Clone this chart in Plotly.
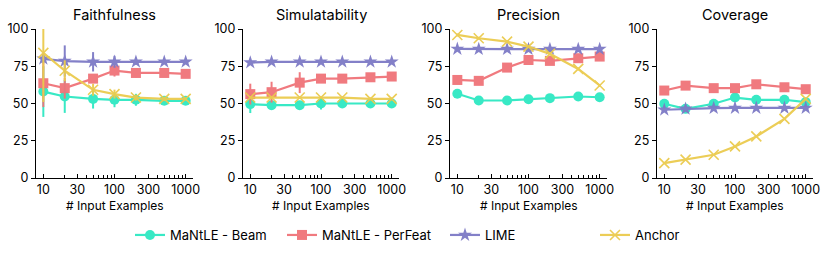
import plotly.graph_objects as go

# ---------------- data ----------------
n_examples = [10, 20, 50, 100, 200, 500, 1000]
tick_vals = [10, 30, 100, 300, 1000]
tick_text = ["10", "30", "100", "300", "1000"]
minor_vals = [20, 40, 50, 60, 70, 80, 90, 200, 400, 500, 600, 700, 800, 900]
y_ticks = [0, 25, 50, 75, 100]

panel_titles = ["Faithfulness", "Simulatability", "Precision", "Coverage"]
method_names = ["MaNtLE - Beam", "MaNtLE - PerFeat", "LIME", "Anchor"]

# Faithfulness
faith_beam = [58, 54.7, 53.1, 52.5, 52.5, 51.8, 51.8]
faith_beam_err = [17, 11, 6.5, 5, 4, 2, 2]
faith_perfeat = [63.6, 60.3, 66.7, 72.1, 70.5, 70.5, 69.9]
faith_perfeat_err = [16, 7, 3, 4, 3, 2, 2]
faith_lime = [80, 78.5, 78, 78, 78, 78, 78]
faith_lime_err = [3, 10.5, 6.5, 4, 2, 1.5, 1]
faith_anchor = [84, 72, 59.2, 56.3, 54, 53.1, 53.1]
faith_anchor_err = [33, 7, 4, 3, 2, 1.5, 1]

# Simulatability
sim_beam = [49.6, 48.9, 48.9, 50, 50, 50, 50]
sim_beam_err = [6, 2, 2, 4, 2, 1.5, 1.5]
sim_perfeat = [56.3, 57.6, 64, 66.7, 66.7, 67.6, 68.1]
sim_perfeat_err = [7, 7, 7, 2, 2, 1.5, 1.5]
sim_lime = [77.5, 78, 78, 78, 78, 78, 78]
sim_lime_err = [1, 1, 1, 1, 1, 1, 1]
sim_anchor = [54, 54, 54, 54, 54, 53.1, 53.1]
sim_anchor_err = [1, 1, 1, 1, 1, 1, 1]

# Precision
prec_beam = [56.5, 52, 52, 52.9, 53.6, 54.7, 54.2]
prec_beam_err = [1.5, 1, 1, 1, 1, 1, 1]
prec_perfeat = [65.8, 65.2, 74.1, 79.2, 78.6, 80.4, 81.5]
prec_perfeat_err = [1.5, 1.5, 1.5, 1.5, 1.5, 1.5, 1.5]
prec_lime = [86.6, 86.5, 86.5, 86.5, 86.5, 86.5, 86.5]
prec_lime_err = [1, 1, 1, 1, 1, 1, 1]
prec_anchor = [96, 93.8, 91.5, 88.2, 83.3, 73.2, 62.1]
prec_anchor_err = [1, 1, 1, 1, 1, 1, 1]

# Coverage
cov_beam = [49.8, 46.4, 49.8, 54, 52.5, 52.5, 50.9]
cov_beam_err = [1, 1, 1, 1, 1, 1, 1]
cov_perfeat = [58.7, 62, 60.3, 60.3, 62.9, 60.9, 59.6]
cov_perfeat_err = [1, 1, 1, 1, 1, 1, 1]
cov_lime = [45.8, 46.4, 46.9, 47, 47, 47, 47]
cov_lime_err = [0.5, 0.5, 0.5, 0.5, 0.5, 0.5, 0.5]
cov_anchor = [10, 12.3, 15.6, 21.2, 27.9, 39.7, 53.1]
cov_anchor_err = [0.5, 0.5, 0.5, 0.5, 0.5, 0.5, 0.5]

panels = [
    [(faith_beam, faith_beam_err), (faith_perfeat, faith_perfeat_err),
     (faith_lime, faith_lime_err), (faith_anchor, faith_anchor_err)],
    [(sim_beam, sim_beam_err), (sim_perfeat, sim_perfeat_err),
     (sim_lime, sim_lime_err), (sim_anchor, sim_anchor_err)],
    [(prec_beam, prec_beam_err), (prec_perfeat, prec_perfeat_err),
     (prec_lime, prec_lime_err), (prec_anchor, prec_anchor_err)],
    [(cov_beam, cov_beam_err), (cov_perfeat, cov_perfeat_err),
     (cov_lime, cov_lime_err), (cov_anchor, cov_anchor_err)],
]

# ---------------- style ----------------
FONT = "Inter"
colors = ["#2ee8c2", "#f07379", "#7d7ac6", "#ebcb4e"]
symbols = ["circle", "square", "star", "x-thin-open"]
msizes = [10, 10, 10.5, 10]

W, H = 831, 258
ML, MR, MT, MB = 36, 18, 29, 80
plot_w = W - ML - MR
plot_h = H - MT - MB
px_domains = [(36, 193), (243, 399), (450, 607), (657, 813)]
domains = [((a - ML) / plot_w, (b - ML) / plot_w) for a, b in px_domains]

fig = go.Figure()
for p in range(4):
    xa = "x" if p == 0 else f"x{p+1}"
    ya = "y" if p == 0 else f"y{p+1}"
    for m in range(4):
        vals, errs = panels[p][m]
        marker = dict(symbol=symbols[m], size=msizes[m], color=colors[m])
        if symbols[m] == "x-thin-open":
            marker["line"] = dict(width=1.6, color=colors[m])
        else:
            marker["line"] = dict(width=0)
        fig.add_trace(go.Scatter(
            x=n_examples, y=vals, xaxis=xa, yaxis=ya,
            mode="lines+markers",
            line=dict(color=colors[m], width=2.2),
            marker=marker,
            error_y=dict(type="data", array=errs, visible=True,
                         color=colors[m], thickness=2, width=0),
            name=method_names[m],
            showlegend=(p == 0),
            legend=("legend" if m == 0 else f"legend{m+1}"),
            opacity=0.95,
        ))

layout = dict(
    width=W, height=H,
    margin=dict(l=ML, r=MR, t=MT, b=MB, pad=0, autoexpand=False),
    paper_bgcolor="white", plot_bgcolor="white",
    font=dict(family=FONT, size=12.5, color="black"),
)

for p in range(4):
    xk = "xaxis" if p == 0 else f"xaxis{p+1}"
    yk = "yaxis" if p == 0 else f"yaxis{p+1}"
    ya = "y" if p == 0 else f"y{p+1}"
    xa = "x" if p == 0 else f"x{p+1}"
    layout[xk] = dict(
        type="log", domain=list(domains[p]), anchor=ya,
        range=[0.897, 3.103],
        tickmode="array", tickvals=tick_vals, ticktext=tick_text,
        ticks="inside", ticklen=4, tickwidth=1.2, tickcolor="black",
        showline=True, linecolor="black", linewidth=1.3,
        showgrid=False, zeroline=False, automargin=False,
        minor=dict(tickmode="array", tickvals=minor_vals, ticks="inside",
                   ticklen=2.5, tickwidth=1, tickcolor="black", showgrid=False),
        tickfont=dict(size=12.5, family=FONT),
    )
    layout[yk] = dict(
        domain=[0, 1], anchor=xa, range=[0, 100],
        tickmode="array", tickvals=y_ticks,
        ticks="outside", ticklen=4, tickwidth=1.2, tickcolor="black",
        showline=True, linecolor="black", linewidth=1.3,
        showgrid=False, zeroline=False, automargin=False,
        tickfont=dict(size=12.5, family=FONT),
    )

annotations = []
for p in range(4):
    cx = (domains[p][0] + domains[p][1]) / 2
    annotations.append(dict(
        text=panel_titles[p], x=cx, y=(MT + plot_h - 15) / plot_h,
        xref="paper", yref="paper", showarrow=False,
        xanchor="center", yanchor="middle",
        font=dict(size=14.5, family=FONT, color="black"),
    ))
    annotations.append(dict(
        text="# Input Examples", x=cx, y=-(205 - (MT + plot_h)) / plot_h,
        xref="paper", yref="paper", showarrow=False,
        xanchor="center", yanchor="middle",
        font=dict(size=12, family=FONT, color="black"),
    ))
layout["annotations"] = annotations

# legends, one per method, placed individually
legend_text_x = [172, 324, 487, 637]
leg_y = -(235 - (MT + plot_h)) / plot_h
for m in range(4):
    key = "legend" if m == 0 else f"legend{m+1}"
    layout[key] = dict(
        x=(legend_text_x[m] - 42 - ML) / plot_w, y=leg_y,
        xanchor="left", yanchor="middle",
        orientation="h", bgcolor="rgba(0,0,0,0)", borderwidth=0,
        font=dict(size=13, family=FONT, color="black"),
    )

fig.update_layout(**layout)
fig.write_html("out.html",
               config={"displayModeBar": False},
               post_script="document.body.style.margin='0';document.body.style.padding='0';")
